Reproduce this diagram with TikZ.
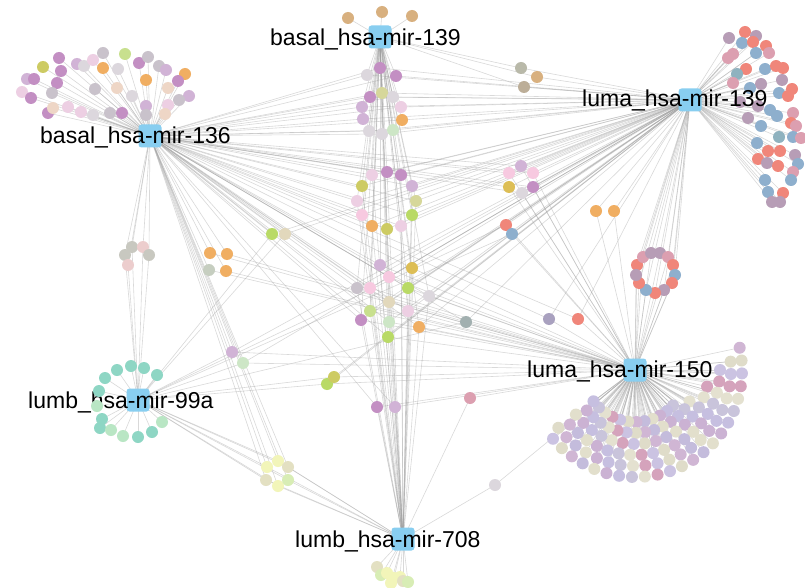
\documentclass[tikz,border=0pt]{standalone}
\usepackage{fontspec}
\setmainfont{Liberation Sans}
\pgfdeclarelayer{bg}
\pgfsetlayers{bg,main}
\definecolor{hubblue}{HTML}{88CEF0}
\definecolor{edgec}{HTML}{A0A0A0}
\definecolor{cP}{HTML}{C38FC3}
\definecolor{cL}{HTML}{D1B3D6}
\definecolor{cK}{HTML}{EDCFE3}
\definecolor{cK2}{HTML}{F7C9E0}
\definecolor{cG}{HTML}{C9C2CB}
\definecolor{cG2}{HTML}{C8C8C0}
\definecolor{cW}{HTML}{DCD7DD}
\definecolor{cY}{HTML}{CDCB63}
\definecolor{cO}{HTML}{F0AE62}
\definecolor{cB}{HTML}{EED6C6}
\definecolor{cB2}{HTML}{E2D8BC}
\definecolor{cB3}{HTML}{E3E0C2}
\definecolor{cM}{HTML}{C8E08E}
\definecolor{cM2}{HTML}{B9DA66}
\definecolor{cT}{HTML}{D8B07F}
\definecolor{cV}{HTML}{D6D79A}
\definecolor{cN}{HTML}{CDE6C6}
\definecolor{cN2}{HTML}{D8EDB5}
\definecolor{cS}{HTML}{B9B9A9}
\definecolor{cU}{HTML}{BCAE98}
\definecolor{cR}{HTML}{F0867A}
\definecolor{cQ}{HTML}{8EAFCD}
\definecolor{cX}{HTML}{B79DB6}
\definecolor{cZ}{HTML}{DC9FB0}
\definecolor{cJ}{HTML}{8FB2BF}
\definecolor{cE}{HTML}{DDBE55}
\definecolor{cI}{HTML}{ECCDCD}
\definecolor{cH}{HTML}{C6CEC0}
\definecolor{cF}{HTML}{A2B0B0}
\definecolor{cD}{HTML}{A9A1BF}
\definecolor{cA}{HTML}{8ED6C4}
\definecolor{cC}{HTML}{B9E6C4}
\definecolor{cY2}{HTML}{F2F5B9}
\definecolor{fa0}{HTML}{C6BFE0}
\definecolor{fa1}{HTML}{C4BCDC}
\definecolor{fa2}{HTML}{CBC3E2}
\definecolor{fa3}{HTML}{C9C4DB}
\definecolor{fa4}{HTML}{E2DFCC}
\definecolor{fa5}{HTML}{DFDCC9}
\definecolor{fa6}{HTML}{E4E1D0}
\definecolor{fa7}{HTML}{CBB2D3}
\definecolor{fa8}{HTML}{D0B6D4}
\definecolor{fa9}{HTML}{D5A3BC}
\newcommand{\mknodes}[2]{%
  \foreach \x/\y/\c [count=\i] in #2 {\node[dot,fill=c\c] (#1\i) at (\x,\y) {};}}
\newcommand{\mkedges}[3]{%
  \foreach \x/\y/\c [count=\i] in #3 {\foreach \h in {#2} {\draw[edge] (\h.center) -- (#1\i.center);}}}
% dot lists
\def\LA{59/58/P, 43/67/Y, 27/79/L, 34/79/P, 61/71/P, 57/83/P, 22/92/K, 31/98/P, 48/113/P, 53/108/B, 52/93/G, 77/64/L, 84/66/W, 93/60/K, 103/53/G, 103/68/O, 95/89/G, 68/107/K, 81/112/K, 93/115/W, 110/113/G, 122/113/P, 117/88/B, 118/69/W, 125/54/M, 139/63/P, 148/57/G, 146/80/O, 132/96/W, 146/106/L, 146/115/G, 159/66/G, 166/70/L, 185/74/O, 178/81/P, 168/88/B, 189/96/L, 179/100/G, 168/105/K, 165/114/B}
\def\LT{348/18/T, 382/12/T, 412/16/T}
\def\LU{367/75/W, 380/68/P, 396/76/P, 370/97/P, 382/93/V, 393/97/W, 362/107/L, 401/107/K, 363/119/L, 402/120/O, 369/131/W, 382/134/W, 393/130/N}
\def\LS{521/68/S, 537/77/T, 524/87/U}
\def\LC{729/38/X, 745/32/R, 756/36/X, 742/43/Q, 753/42/R, 766/46/R, 733/54/Z, 728/58/Z, 756/53/Q, 769/53/Z, 746/69/R, 737/74/J, 765/69/Q, 776/66/R, 783/68/R, 733/83/Z, 761/84/X, 782/80/X, 750/88/Q, 792/89/R, 779/93/Q, 788/96/R, 740/102/X, 758/106/X, 770/110/Q, 777/116/Q, 793/113/Z, 791/123/R, 748/118/X, 761/126/Q, 796/126/Z, 779/137/J, 793/137/Q, 801/138/Z, 757/143/Q, 768/151/R, 780/151/R, 758/159/R, 767/163/X, 778/166/R, 795/155/X, 798/164/Q, 793/172/Z, 765/180/Q, 791/180/Q, 768/192/Q, 783/193/R, 772/202/X, 780/202/X}
\def\LO{596/211/O, 614/211/O}
\def\LR{637/265/R, 643/257/Z, 651/253/X, 660/253/X, 668/257/Z, 673/265/R, 675/275/Q, 672/283/R, 664/290/X, 655/293/R, 646/290/Q, 639/283/R, 636/275/X}
\def\LRB{506/225/R, 512/234/Q}
\def\LRC{521/166/L, 509/173/K2, 533/173/K2, 509/187/E, 533/187/P, 522/193/W}
\def\LK{372/175/K, 387/172/P, 401/175/P, 412/186/L, 362/186/Y, 357/201/K, 416/201/V, 362/215/K2, 412/215/M2, 372/226/O, 387/229/Y, 401/226/K}
\def\LPP{272/234/M2, 285/234/B2}
\def\LG{380/265/L, 412/268/E, 389/277/K2, 357/288/G, 370/288/K2, 408/288/M2, 429/296/W, 389/302/B2, 370/311/M, 408/311/K, 361/320/P, 389/322/N, 419/327/O, 388/337/M2}
\def\LGP{125/255/G2, 132/247/G2, 143/247/I, 149/255/G2, 128/265/I}
\def\LOC{210/253/O, 227/254/O, 209/270/H, 226/271/O}
\def\LSA{232/352/L, 243/363/N}
\def\LSB{466/322/F}
\def\LSC{549/319/D, 578/319/R}
\def\LSD{327/384/M2, 334/377/Y}
\def\LSE{377/407/P, 395/407/L}
\def\LSF{470/398/Z, 495/485/W}
\def\LM{117/370/A, 131/366/A, 144/368/A, 157/375/A, 105/378/A, 99/391/A, 97/406/C, 102/419/A, 100/428/A, 111/430/C, 123/436/C, 138/437/A, 152/432/A, 162/422/C}
\def\LY{267/467/Y2, 278/461/Y2, 288/467/B3, 266/480/B3, 278/486/Y2, 288/480/N2}
\def\LZ{377/567/B3, 381/575/N2, 387/573/Y2, 394/578/Y2, 400/577/Y2, 391/583/Y2, 403/581/B3, 408/582/N2}
\def\LF{52/11/40,63/13/30,74/15/10,85/18/0,96/20/-8,107/22/-12}
\begin{document}
\begin{tikzpicture}[x=1pt,y=-1pt,
  dot/.style={circle,inner sep=0pt,minimum size=12pt},
  hub/.style={fill=hubblue,rounded corners=3pt,minimum size=23pt,inner sep=0pt},
  lbl/.style={anchor=base west,inner sep=0pt,font=\fontsize{23}{27}\selectfont},
  edge/.style={draw=edgec,draw opacity=0.4,line width=0.6pt}]
\useasboundingbox (0,0) rectangle (805,588);
% hubs
\node[hub] (b136) at (150,136) {};
\node[hub] (b139) at (380,37) {};
\node[hub] (l139) at (690,100) {};
\node[hub] (l150) at (635,370) {};
\node[hub] (m99) at (138,400) {};
\node[hub] (m708) at (403,539) {};
\node[lbl] (tm99) at (28,408) {lumb\_hsa-mir-99a};
% dots
\mknodes{a}{\LA}
\mknodes{t}{\LT}
\mknodes{u}{\LU}
\mknodes{s}{\LS}
\mknodes{c}{\LC}
\mknodes{o}{\LO}
\mknodes{r}{\LR}
\mknodes{rb}{\LRB}
\mknodes{rc}{\LRC}
\mknodes{k}{\LK}
\mknodes{pp}{\LPP}
\mknodes{g}{\LG}
\mknodes{gp}{\LGP}
\mknodes{oc}{\LOC}
\mknodes{sa}{\LSA}
\mknodes{sb}{\LSB}
\mknodes{sc}{\LSC}
\mknodes{sd}{\LSD}
\mknodes{se}{\LSE}
\mknodes{sf}{\LSF}
\mknodes{m}{\LM}
\mknodes{y}{\LY}
\mknodes{z}{\LZ}
\foreach \r/\n/\s [count=\k] in \LF {
  \foreach \i in {0,...,\n} {
    \pgfmathsetmacro\a{\s+(140-\s)*\i/\n+3*mod(\k,2)}
    \pgfmathtruncatemacro\ci{mod(\i*7+\k*3,10)}
    \node[dot,fill=fa\ci] (f\k-\i) at ({635+\r*cos(\a)},{370+\r*sin(\a)}) {};
  }
}
% connectors
\begin{pgfonlayer}{bg}
\fill[white] (0,0) rectangle (805,588);
\mkedges{a}{b136}{\LA}
\mkedges{t}{b139}{\LT}
\mkedges{u}{b139,b136,l139}{\LU}
\mkedges{s}{b139,l139}{\LS}
\mkedges{c}{l139}{\LC}
\mkedges{o}{l139,l150}{\LO}
\mkedges{r}{l139,l150}{\LR}
\mkedges{rb}{l139,l150,m99}{\LRB}
\mkedges{rc}{b136,l139,l150}{\LRC}
\mkedges{k}{b136,b139,l139,m708}{\LK}
\mkedges{pp}{b136,l139,m99}{\LPP}
\mkedges{g}{b136,b139,l139,l150,m708}{\LG}
\mkedges{gp}{b136,m99}{\LGP}
\mkedges{oc}{b136,l150}{\LOC}
\mkedges{sa}{m99,l139,b136,l150}{\LSA}
\mkedges{sb}{l139,m99,b136}{\LSB}
\mkedges{sc}{l139,l150,b136}{\LSC}
\mkedges{sd}{m99,l139,l150}{\LSD}
\mkedges{se}{b136,m708,l150}{\LSE}
\mkedges{sf}{l150,m708}{\LSF}
\mkedges{m}{m99}{\LM}
\mkedges{y}{m708,m99,b136}{\LY}
\mkedges{z}{m708}{\LZ}
\foreach \r/\n/\s [count=\k] in \LF {
  \foreach \i in {0,...,\n} {\draw[edge] (l150.center) -- (f\k-\i.center);}
}
\end{pgfonlayer}
% labels
\node[lbl] (tb136) at (40,144) {basal\_hsa-mir-136};
\node[lbl] (tb139) at (270,46) {basal\_hsa-mir-139};
\node[lbl] (tl139) at (582,107) {luma\_hsa-mir-139};
\node[lbl] (tl150) at (527,377) {luma\_hsa-mir-150};
\node[lbl] (tm708) at (295,547) {lumb\_hsa-mir-708};
\end{tikzpicture}
\end{document}
